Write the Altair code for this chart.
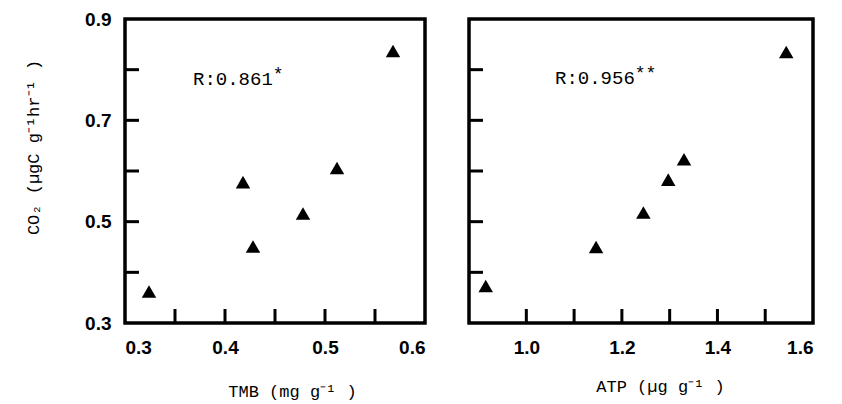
import altair as alt
import pandas as pd

# ---- data ----
tmb = [0.324, 0.418, 0.428, 0.478, 0.512, 0.568]
co2_tmb = [0.362, 0.578, 0.451, 0.516, 0.606, 0.837]
atp = [0.915, 1.146, 1.245, 1.297, 1.330, 1.544]
co2_atp = [0.373, 0.450, 0.518, 0.583, 0.623, 0.835]

tmb_labels = [0.3, 0.4, 0.5, 0.6]
tmb_minor = [0.35, 0.4, 0.45, 0.5, 0.55]
atp_labels = [1.0, 1.2, 1.4, 1.6]
atp_minor = [1.0, 1.1, 1.2, 1.3, 1.4, 1.5]
co2_labels = [0.3, 0.5, 0.7, 0.9]
co2_minor = [0.4, 0.5, 0.6, 0.7, 0.8]

r_text = ["R:0.861", "R:0.956"]
r_star = ["*", "**"]
r_x = [0.368, 1.060]
r_y = [0.769, 0.771]

MONO = "Liberation Mono"
SANS = "Liberation Sans"
H = 304
TICK = 14
RFONT = 19


def panel(xv, yv, xdom, xlabels, xminor, xtitle, title_x, title_y, width, idx, show_y):
    xscale = alt.Scale(domain=xdom, nice=False, zero=False)
    yscale = alt.Scale(domain=[0.3, 0.9], nice=False, zero=False)
    xaxis = alt.Axis(values=xlabels, format=".1f", title=xtitle,
                     titleX=title_x, titleY=title_y, titleBaseline="middle")
    if show_y:
        yaxis = alt.Axis(values=co2_labels, format=".1f",
                         title="CO\u2082 (\u00b5gC g\u207b\u00b9hr\u207b\u00b9 )",
                         titleX=-92, titleY=128, titleBaseline="middle")
    else:
        yaxis = None

    pts = alt.Chart(pd.DataFrame({"x": xv, "y": yv})).mark_point(
        shape="triangle-up", filled=True, color="black", size=210, opacity=1
    ).encode(
        x=alt.X("x:Q", scale=xscale, axis=xaxis),
        y=alt.Y("y:Q", scale=yscale, axis=yaxis),
    )
    xt = alt.Chart(pd.DataFrame({"x": xminor})).mark_rule(
        color="black", strokeWidth=3
    ).encode(
        x=alt.X("x:Q", scale=xscale, axis=xaxis),
        y=alt.value(H), y2=alt.value(H - TICK),
    )
    yt = alt.Chart(pd.DataFrame({"y": co2_minor})).mark_rule(
        color="black", strokeWidth=3
    ).encode(
        y=alt.Y("y:Q", scale=yscale, axis=yaxis),
        x=alt.value(0), x2=alt.value(TICK),
    )
    ann = pd.DataFrame({"x": [r_x[idx]], "y": [r_y[idx]],
                        "t": [r_text[idx]], "s": [r_star[idx]]})
    txt = alt.Chart(ann).mark_text(
        font=MONO, fontSize=RFONT, align="left", baseline="alphabetic", color="black"
    ).encode(
        x=alt.X("x:Q", scale=xscale, axis=xaxis),
        y=alt.Y("y:Q", scale=yscale, axis=yaxis),
        text="t:N",
    )
    star = alt.Chart(ann).mark_text(
        font=MONO, fontSize=18, align="left", baseline="alphabetic", color="black",
        dx=7 * RFONT * 0.6, dy=-5
    ).encode(
        x=alt.X("x:Q", scale=xscale, axis=xaxis),
        y=alt.Y("y:Q", scale=yscale, axis=yaxis),
        text="s:N",
    )
    return alt.layer(yt, xt, pts, txt, star).properties(width=width, height=H)


left = panel(tmb, co2_tmb, [0.3, 0.6], tmb_labels, tmb_minor,
             "TMB (mg g\u207b\u00b9 )", 167, 68, 300, 0, True)
right = panel(atp, co2_atp, [0.88, 1.6], atp_labels, atp_minor,
              "ATP (\u00b5g g\u207b\u00b9 )", 191, 63, 344, 1, False)

chart = alt.hconcat(left, right, spacing=38).properties(
    padding={"left": 14, "top": 0, "right": 5, "bottom": 0},
    background="white",
).configure_view(
    stroke="black", strokeWidth=3.5
).configure_axis(
    ticks=False, domain=False, grid=False,
    labelFont=SANS, labelFontWeight="bold", labelFontSize=19, labelColor="black",
    labelPadding=14,
    titleFont=MONO, titleFontWeight="normal", titleFontSize=17, titleColor="black",
).configure_axisX(labelBaseline="top", labelPadding=15)

chart.save("out.html", embed_options={"renderer": "svg", "actions": False})
